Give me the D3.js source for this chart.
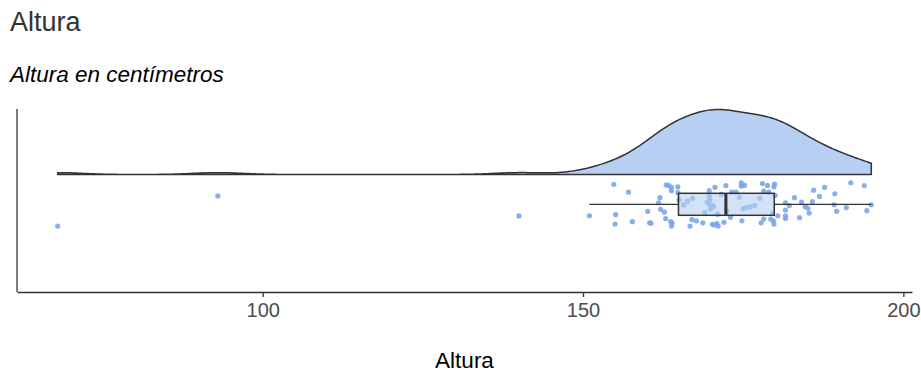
<!DOCTYPE html>
<html lang="es">
<head>
<meta charset="UTF-8">
<title>Altura</title>
<script src="https://d3js.org/d3.v7.min.js"></script>
<style>
  body { margin: 0; background: #fff; }
  svg { display: block; font-family: "Liberation Sans", Arial, sans-serif; }
</style>
</head>
<body>
<div id="chart"></div>
<script>
// Heights in cm
const alturas = [
  68, 93, 140,
  154.8, 157.1, 151.0, 155.1, 155.0, 157.7, 160.1, 160.4, 160.6, 162.0,
  161.8, 162.1, 162.7, 163.0, 163.4, 163.8, 163.8, 164.8, 164.8, 165.0,
  162.9, 163.7, 163.9, 163.8, 165.7, 166.3, 167.1, 166.7, 167.0, 167.7,
  168.7, 169.0, 169.7, 169.7, 169.4, 169.7, 170.2, 169.9, 170.6, 170.2,
  170.5, 170.9, 171.1, 172.0, 172.3, 173.0, 173.2, 173.9, 174.7, 174.7,
  175.2, 174.4, 174.8, 175.0, 175.5, 176.1, 176.8, 177.6, 178.0, 178.8,
  179.9, 179.8, 178.2, 179.0, 180.0, 179.6, 178.2, 177.8, 179.3, 179.7,
  179.8, 180.4, 181.6, 182.2, 181.6, 181.6, 181.6, 183.0, 183.8, 184.1,
  184.7, 185.1, 185.3, 185.8, 186.0, 186.9, 187.7, 189.3, 189.2, 189.6,
  191.1, 191.8, 193.9, 194.3, 195.0,
  169.8, 170.4, 171.0, 171.6, 172.4
];
// vertical jitter of each point, -1..1 of the jitter band
const jitter = [
  0.99, -0.38, 0.53,
  -0.91, -0.55, 0.52, 0.47, 0.90, 0.79, 0.32, 0.84, 0.86, -0.30,
  -0.07, 0.23, 0.36, -0.88, -0.85, -0.77, -0.62, -0.79, -0.53, -0.20,
  0.65, 0.79, 0.86, 0.99, 0.03, -0.14, -0.27, 0.99, 0.70, 0.75,
  0.84, 0.38, -0.62, -0.36, -0.09, 0.00, 0.06, 0.21, -0.77, 0.91,
  0.94, 0.88, 0.99, 0.82, -0.85, 0.59, -0.56, -0.55, -0.98, -0.83,
  -0.86, -0.32, 0.75, 0.20, 0.15, 0.12, 0.06, -0.27, -0.94, -0.86,
  -0.92, -0.80, -0.60, -0.55, -0.41, 0.41, 0.67, 0.84, 0.67, 0.75,
  0.90, 0.52, -0.07, 0.06, 0.26, 0.52, 0.64, -0.30, 0.61, -0.10,
  0.11, 0.18, 0.40, -0.12, -0.64, -0.36, -0.77, -0.48, 0.02, 0.32,
  0.15, -0.98, -0.85, 0.29, 0.02,
  -0.20, 0.12, 0.45, -0.45, 0.30
];
const xTicks = [100, 150, 200];

const width = 921, height = 372;
const margin = { top: 109, right: 9, bottom: 80, left: 17 };
const plotBottom = height - margin.bottom; // 292

const svg = d3.select('#chart').append('svg')
  .attr('width', width)
  .attr('height', height);

// titles
svg.append('text').attr('x', 10).attr('y', 30.5)
  .attr('font-size', 27).attr('fill', '#333').text('Altura');
svg.append('text').attr('x', 10).attr('y', 81.5)
  .attr('font-size', 22.5).attr('font-style', 'italic').attr('fill', '#000')
  .text('Altura en centímetros');

// x scale with ggplot-like 5% expansion
const ext = d3.extent(alturas);
const pad = (ext[1] - ext[0]) * 0.05;
const x = d3.scaleLinear()
  .domain([ext[0] - pad, ext[1] + pad])
  .range([margin.left, width - margin.right]);

// vertical layout
const baseY = 174.5, peakH = 65;
const boxY = 204.3, boxHalf = 11, jitH = 22;

// density (gaussian kernel, nrd0 bandwidth)
const sorted = alturas.slice().sort(d3.ascending);
const sd = d3.deviation(sorted);
const iqr = d3.quantile(sorted, 0.75) - d3.quantile(sorted, 0.25);
const bw = 0.9 * Math.min(sd, iqr / 1.34) * Math.pow(sorted.length, -0.2);
const gauss = u => Math.exp(-0.5 * u * u) / Math.sqrt(2 * Math.PI);
const grid = d3.range(0, 512).map(i => ext[0] + (ext[1] - ext[0]) * i / 511);
const dens = grid.map(g => [g, d3.mean(sorted, v => gauss((g - v) / bw)) / bw]);
const yDen = d3.scaleLinear()
  .domain([0, d3.max(dens, d => d[1])])
  .range([baseY, baseY - peakH]);

const area = d3.area()
  .x(d => x(d[0]))
  .y0(baseY)
  .y1(d => yDen(d[1]));
svg.append('path')
  .datum(dens)
  .attr('d', area)
  .attr('fill', '#b7cff2')
  .attr('stroke', 'none');
const outline = [[ext[0], 0]].concat(dens, [[ext[1], 0]]);
const line = d3.line().x(d => x(d[0])).y(d => yDen(d[1]));
svg.append('path')
  .attr('d', line(outline) + 'Z')
  .attr('fill', 'none')
  .attr('stroke', '#333')
  .attr('stroke-width', 1.5)
  .attr('stroke-linejoin', 'round');

// jittered points
svg.append('g').selectAll('circle')
  .data(alturas)
  .enter().append('circle')
  .attr('cx', d => x(d))
  .attr('cy', (d, i) => boxY + jitter[i] * jitH)
  .attr('r', 2.6)
  .attr('fill', '#7aa6ea')
  .attr('fill-opacity', 0.9);

// boxplot
const q1 = d3.quantile(sorted, 0.25);
const med = d3.quantile(sorted, 0.5);
const q3 = d3.quantile(sorted, 0.75);
const q = q3 - q1;
const wLo = d3.min(sorted.filter(v => v >= q1 - 1.5 * q));
const wHi = d3.max(sorted.filter(v => v <= q3 + 1.5 * q));

const box = svg.append('g').attr('stroke', '#333');
box.append('line').attr('x1', x(wLo)).attr('x2', x(q1))
  .attr('y1', boxY).attr('y2', boxY).attr('stroke-width', 1.3);
box.append('line').attr('x1', x(q3)).attr('x2', x(wHi))
  .attr('y1', boxY).attr('y2', boxY).attr('stroke-width', 1.3);
box.append('rect')
  .attr('x', x(q1)).attr('y', boxY - boxHalf)
  .attr('width', x(q3) - x(q1)).attr('height', boxHalf * 2)
  .attr('fill', '#b7cff2').attr('fill-opacity', 0.6)
  .attr('stroke-width', 1.5);
box.append('line').attr('x1', x(med)).attr('x2', x(med))
  .attr('y1', boxY - boxHalf).attr('y2', boxY + boxHalf)
  .attr('stroke-width', 3);

// axes
const xAxis = svg.append('g')
  .attr('transform', `translate(0,${plotBottom})`)
  .call(d3.axisBottom(x).tickValues(xTicks).tickSize(5).tickPadding(6).tickSizeOuter(0));
xAxis.select('.domain').attr('stroke', '#333').attr('stroke-width', 1.3);
xAxis.selectAll('.tick line').attr('stroke', '#333').attr('stroke-width', 1.3);
xAxis.selectAll('.tick text')
  .attr('font-size', 20).attr('fill', '#4d4d4d')
  .attr('font-family', '"Liberation Sans", Arial, sans-serif');

svg.append('line')
  .attr('x1', margin.left).attr('x2', margin.left)
  .attr('y1', margin.top).attr('y2', plotBottom)
  .attr('stroke', '#333').attr('stroke-width', 1.3);

svg.append('text')
  .attr('x', (margin.left + width - margin.right) / 2)
  .attr('y', 368)
  .attr('text-anchor', 'middle')
  .attr('font-size', 22.5)
  .attr('fill', '#000')
  .text('Altura');
</script>
</body>
</html>
